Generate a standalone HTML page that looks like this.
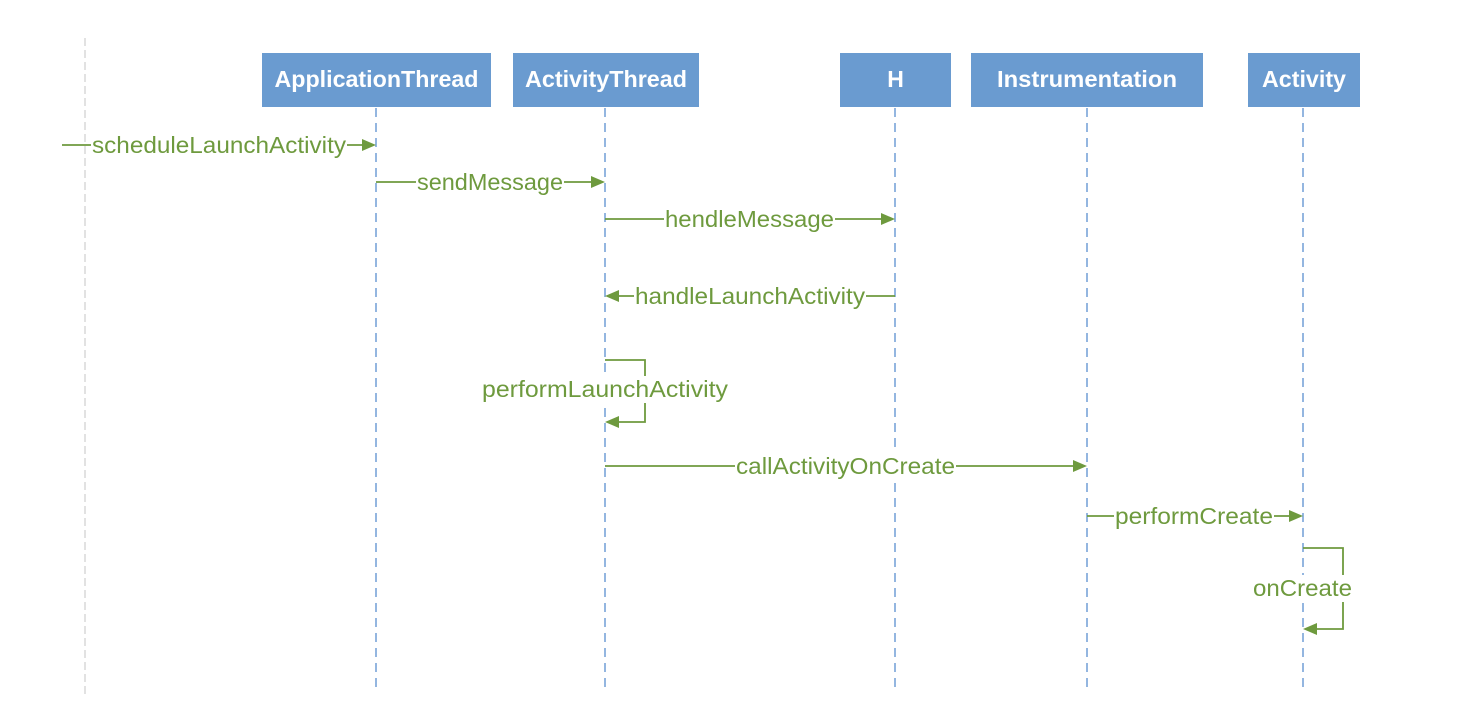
<!DOCTYPE html>
<html><head><meta charset="utf-8"><style>
html,body{margin:0;padding:0;background:#fff;}
svg{display:block;}
.lbl{font-family:"Liberation Sans",sans-serif;font-size:23px;fill:#6e9a3e;}
.hd{font-family:"Liberation Sans",sans-serif;font-size:23px;font-weight:bold;fill:#fff;}
</style></head><body>
<svg width="1474" height="702" viewBox="0 0 1474 702" xmlns="http://www.w3.org/2000/svg">
<line x1="85" y1="38" x2="85" y2="695" stroke="#d8d8d8" stroke-width="1.5" stroke-dasharray="8,4"/>
<g fill="#6a9bd0">
<rect x="262" y="53" width="229" height="54"/>
<rect x="513" y="53" width="186" height="54"/>
<rect x="840" y="53" width="111" height="54"/>
<rect x="971" y="53" width="232" height="54"/>
<rect x="1248" y="53" width="112" height="54"/>
</g>
<text class="hd" x="376.5" y="87" text-anchor="middle" textLength="204" lengthAdjust="spacingAndGlyphs">ApplicationThread</text>
<text class="hd" x="606" y="87" text-anchor="middle" textLength="162" lengthAdjust="spacingAndGlyphs">ActivityThread</text>
<text class="hd" x="895.5" y="87" text-anchor="middle">H</text>
<text class="hd" x="1087" y="87" text-anchor="middle" textLength="180" lengthAdjust="spacingAndGlyphs">Instrumentation</text>
<text class="hd" x="1304" y="87" text-anchor="middle" textLength="84" lengthAdjust="spacingAndGlyphs">Activity</text>
<g stroke="#5b8fcf" stroke-width="1.3" stroke-dasharray="9,6">
<line x1="376" y1="108" x2="376" y2="690"/>
<line x1="605" y1="108" x2="605" y2="690"/>
<line x1="895" y1="108" x2="895" y2="690"/>
<line x1="1087" y1="108" x2="1087" y2="690"/>
<line x1="1303" y1="108" x2="1303" y2="690"/>
</g>
<g stroke="#6e9a3e" stroke-width="1.8" fill="none">
<line x1="62" y1="145" x2="364" y2="145"/>
<line x1="376" y1="182" x2="593" y2="182"/>
<line x1="605" y1="219" x2="883" y2="219"/>
<line x1="617" y1="296" x2="895" y2="296"/>
<polyline points="605,360 645,360 645,422 617,422"/>
<line x1="605" y1="466" x2="1075" y2="466"/>
<line x1="1087" y1="516" x2="1291" y2="516"/>
<polyline points="1303,548 1343,548 1343,629 1315,629"/>
</g>
<g fill="#6e9a3e">
<polygon points="376,145 362,139 362,151"/>
<polygon points="605,182 591,176 591,188"/>
<polygon points="895,219 881,213 881,225"/>
<polygon points="605,296 619,290 619,302"/>
<polygon points="605,422 619,416 619,428"/>
<polygon points="1087,466 1073,460 1073,472"/>
<polygon points="1303,516 1289,510 1289,522"/>
<polygon points="1303,629 1317,623 1317,635"/>
</g>
<g fill="#fff">
<rect x="91" y="132" width="256" height="27"/>
<rect x="416" y="169" width="148" height="27"/>
<rect x="664" y="206" width="171" height="27"/>
<rect x="634" y="283" width="232" height="27"/>
<rect x="481" y="376" width="248" height="27"/>
<rect x="735" y="453" width="221" height="27"/>
<rect x="1114" y="503" width="160" height="27"/>
<rect x="1252" y="575" width="101" height="27"/>
</g>
<text class="lbl" x="92" y="153" textLength="254" lengthAdjust="spacingAndGlyphs">scheduleLaunchActivity</text>
<text class="lbl" x="417" y="190" textLength="146" lengthAdjust="spacingAndGlyphs">sendMessage</text>
<text class="lbl" x="665" y="227" textLength="169" lengthAdjust="spacingAndGlyphs">hendleMessage</text>
<text class="lbl" x="635" y="304" textLength="230" lengthAdjust="spacingAndGlyphs">handleLaunchActivity</text>
<text class="lbl" x="482" y="397" textLength="246" lengthAdjust="spacingAndGlyphs">performLaunchActivity</text>
<text class="lbl" x="736" y="474" textLength="219" lengthAdjust="spacingAndGlyphs">callActivityOnCreate</text>
<text class="lbl" x="1115" y="524" textLength="158" lengthAdjust="spacingAndGlyphs">performCreate</text>
<text class="lbl" x="1253" y="596" textLength="99" lengthAdjust="spacingAndGlyphs">onCreate</text>
</svg>
</body></html>
